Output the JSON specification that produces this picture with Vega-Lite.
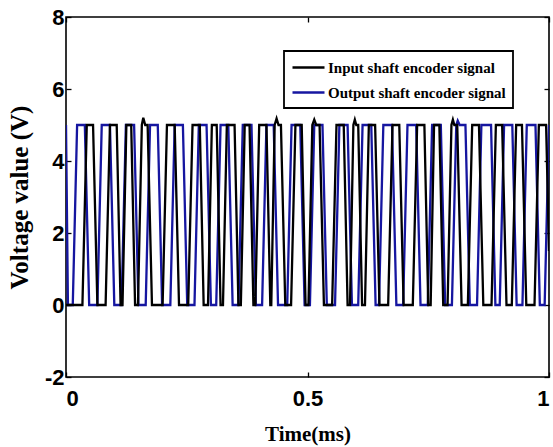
{
  "$schema": "https://vega.github.io/schema/vega-lite/v6.json",
  "autosize": {"type": "none"},
  "padding": {"left": 66, "top": 17, "right": 4, "bottom": 70},
  "width": 483,
  "height": 360,
  "background": "white",
  "config": {
    "view": {"stroke": "black", "strokeWidth": 1.6},
    "legend": {"strokeWidth": 1.8},
    "axis": {
      "grid": false,
      "domain": false,
      "tickColor": "black",
      "tickSize": -5,
      "tickWidth": 1.3,
      "labelColor": "black",
      "labelFont": "Liberation Sans",
      "labelFontWeight": "bold",
      "labelFontSize": 22,
      "titleColor": "black",
      "titleFont": "Liberation Serif",
      "titleFontWeight": "bold"
    }
  },
  "datasets": {
    "sig": [
      {"t": 0.0, "v": 5, "s": "Output shaft encoder signal"},
      {"t": 0.004, "v": 0, "s": "Output shaft encoder signal"},
      {"t": 0.014, "v": 0, "s": "Output shaft encoder signal"},
      {"t": 0.023, "v": 5, "s": "Output shaft encoder signal"},
      {"t": 0.039, "v": 5, "s": "Output shaft encoder signal"},
      {"t": 0.048, "v": 0, "s": "Output shaft encoder signal"},
      {"t": 0.065, "v": 0, "s": "Output shaft encoder signal"},
      {"t": 0.074, "v": 5, "s": "Output shaft encoder signal"},
      {"t": 0.091, "v": 5, "s": "Output shaft encoder signal"},
      {"t": 0.100, "v": 0, "s": "Output shaft encoder signal"},
      {"t": 0.115, "v": 0, "s": "Output shaft encoder signal"},
      {"t": 0.124, "v": 5, "s": "Output shaft encoder signal"},
      {"t": 0.141, "v": 5, "s": "Output shaft encoder signal"},
      {"t": 0.150, "v": 0, "s": "Output shaft encoder signal"},
      {"t": 0.165, "v": 0, "s": "Output shaft encoder signal"},
      {"t": 0.174, "v": 5, "s": "Output shaft encoder signal"},
      {"t": 0.190, "v": 5, "s": "Output shaft encoder signal"},
      {"t": 0.199, "v": 0, "s": "Output shaft encoder signal"},
      {"t": 0.216, "v": 0, "s": "Output shaft encoder signal"},
      {"t": 0.225, "v": 5, "s": "Output shaft encoder signal"},
      {"t": 0.242, "v": 5, "s": "Output shaft encoder signal"},
      {"t": 0.251, "v": 0, "s": "Output shaft encoder signal"},
      {"t": 0.266, "v": 0, "s": "Output shaft encoder signal"},
      {"t": 0.275, "v": 5, "s": "Output shaft encoder signal"},
      {"t": 0.291, "v": 5, "s": "Output shaft encoder signal"},
      {"t": 0.300, "v": 0, "s": "Output shaft encoder signal"},
      {"t": 0.311, "v": 0, "s": "Output shaft encoder signal"},
      {"t": 0.320, "v": 5, "s": "Output shaft encoder signal"},
      {"t": 0.336, "v": 5, "s": "Output shaft encoder signal"},
      {"t": 0.345, "v": 0, "s": "Output shaft encoder signal"},
      {"t": 0.357, "v": 0, "s": "Output shaft encoder signal"},
      {"t": 0.366, "v": 5, "s": "Output shaft encoder signal"},
      {"t": 0.384, "v": 5, "s": "Output shaft encoder signal"},
      {"t": 0.393, "v": 0, "s": "Output shaft encoder signal"},
      {"t": 0.406, "v": 0, "s": "Output shaft encoder signal"},
      {"t": 0.415, "v": 5, "s": "Output shaft encoder signal"},
      {"t": 0.430, "v": 5, "s": "Output shaft encoder signal"},
      {"t": 0.439, "v": 0, "s": "Output shaft encoder signal"},
      {"t": 0.458, "v": 0, "s": "Output shaft encoder signal"},
      {"t": 0.467, "v": 5, "s": "Output shaft encoder signal"},
      {"t": 0.485, "v": 5, "s": "Output shaft encoder signal"},
      {"t": 0.494, "v": 0, "s": "Output shaft encoder signal"},
      {"t": 0.505, "v": 0, "s": "Output shaft encoder signal"},
      {"t": 0.514, "v": 5, "s": "Output shaft encoder signal"},
      {"t": 0.531, "v": 5, "s": "Output shaft encoder signal"},
      {"t": 0.540, "v": 0, "s": "Output shaft encoder signal"},
      {"t": 0.557, "v": 0, "s": "Output shaft encoder signal"},
      {"t": 0.566, "v": 5, "s": "Output shaft encoder signal"},
      {"t": 0.583, "v": 5, "s": "Output shaft encoder signal"},
      {"t": 0.592, "v": 0, "s": "Output shaft encoder signal"},
      {"t": 0.605, "v": 0, "s": "Output shaft encoder signal"},
      {"t": 0.614, "v": 5, "s": "Output shaft encoder signal"},
      {"t": 0.632, "v": 5, "s": "Output shaft encoder signal"},
      {"t": 0.641, "v": 0, "s": "Output shaft encoder signal"},
      {"t": 0.648, "v": 0, "s": "Output shaft encoder signal"},
      {"t": 0.657, "v": 5, "s": "Output shaft encoder signal"},
      {"t": 0.675, "v": 5, "s": "Output shaft encoder signal"},
      {"t": 0.684, "v": 0, "s": "Output shaft encoder signal"},
      {"t": 0.698, "v": 0, "s": "Output shaft encoder signal"},
      {"t": 0.707, "v": 5, "s": "Output shaft encoder signal"},
      {"t": 0.725, "v": 5, "s": "Output shaft encoder signal"},
      {"t": 0.734, "v": 0, "s": "Output shaft encoder signal"},
      {"t": 0.749, "v": 0, "s": "Output shaft encoder signal"},
      {"t": 0.758, "v": 5, "s": "Output shaft encoder signal"},
      {"t": 0.776, "v": 5, "s": "Output shaft encoder signal"},
      {"t": 0.785, "v": 0, "s": "Output shaft encoder signal"},
      {"t": 0.799, "v": 0, "s": "Output shaft encoder signal"},
      {"t": 0.808, "v": 5, "s": "Output shaft encoder signal"},
      {"t": 0.811, "v": 5.12, "s": "Output shaft encoder signal"},
      {"t": 0.815, "v": 5, "s": "Output shaft encoder signal"},
      {"t": 0.827, "v": 5, "s": "Output shaft encoder signal"},
      {"t": 0.836, "v": 0, "s": "Output shaft encoder signal"},
      {"t": 0.851, "v": 0, "s": "Output shaft encoder signal"},
      {"t": 0.860, "v": 5, "s": "Output shaft encoder signal"},
      {"t": 0.880, "v": 5, "s": "Output shaft encoder signal"},
      {"t": 0.889, "v": 0, "s": "Output shaft encoder signal"},
      {"t": 0.898, "v": 0, "s": "Output shaft encoder signal"},
      {"t": 0.907, "v": 5, "s": "Output shaft encoder signal"},
      {"t": 0.924, "v": 5, "s": "Output shaft encoder signal"},
      {"t": 0.933, "v": 0, "s": "Output shaft encoder signal"},
      {"t": 0.945, "v": 0, "s": "Output shaft encoder signal"},
      {"t": 0.954, "v": 5, "s": "Output shaft encoder signal"},
      {"t": 0.972, "v": 5, "s": "Output shaft encoder signal"},
      {"t": 0.981, "v": 0, "s": "Output shaft encoder signal"},
      {"t": 0.991, "v": 0, "s": "Output shaft encoder signal"},
      {"t": 1.0, "v": 5, "s": "Output shaft encoder signal"},

      {"t": 0.0, "v": 0, "s": "Input shaft encoder signal"},
      {"t": 0.034, "v": 0, "s": "Input shaft encoder signal"},
      {"t": 0.043, "v": 5, "s": "Input shaft encoder signal"},
      {"t": 0.056, "v": 5, "s": "Input shaft encoder signal"},
      {"t": 0.065, "v": 0, "s": "Input shaft encoder signal"},
      {"t": 0.082, "v": 0, "s": "Input shaft encoder signal"},
      {"t": 0.091, "v": 5, "s": "Input shaft encoder signal"},
      {"t": 0.105, "v": 5, "s": "Input shaft encoder signal"},
      {"t": 0.113, "v": 0, "s": "Input shaft encoder signal"},
      {"t": 0.117, "v": 0, "s": "Input shaft encoder signal"},
      {"t": 0.125, "v": 5, "s": "Input shaft encoder signal"},
      {"t": 0.135, "v": 5, "s": "Input shaft encoder signal"},
      {"t": 0.143, "v": 0, "s": "Input shaft encoder signal"},
      {"t": 0.149, "v": 0, "s": "Input shaft encoder signal"},
      {"t": 0.157, "v": 5, "s": "Input shaft encoder signal"},
      {"t": 0.160, "v": 5.2, "s": "Input shaft encoder signal"},
      {"t": 0.164, "v": 5, "s": "Input shaft encoder signal"},
      {"t": 0.169, "v": 5, "s": "Input shaft encoder signal"},
      {"t": 0.178, "v": 0, "s": "Input shaft encoder signal"},
      {"t": 0.200, "v": 0, "s": "Input shaft encoder signal"},
      {"t": 0.209, "v": 5, "s": "Input shaft encoder signal"},
      {"t": 0.225, "v": 5, "s": "Input shaft encoder signal"},
      {"t": 0.234, "v": 0, "s": "Input shaft encoder signal"},
      {"t": 0.253, "v": 0, "s": "Input shaft encoder signal"},
      {"t": 0.262, "v": 5, "s": "Input shaft encoder signal"},
      {"t": 0.277, "v": 5, "s": "Input shaft encoder signal"},
      {"t": 0.285, "v": 0, "s": "Input shaft encoder signal"},
      {"t": 0.294, "v": 0, "s": "Input shaft encoder signal"},
      {"t": 0.302, "v": 5, "s": "Input shaft encoder signal"},
      {"t": 0.312, "v": 5, "s": "Input shaft encoder signal"},
      {"t": 0.320, "v": 0, "s": "Input shaft encoder signal"},
      {"t": 0.325, "v": 0, "s": "Input shaft encoder signal"},
      {"t": 0.333, "v": 5, "s": "Input shaft encoder signal"},
      {"t": 0.349, "v": 5, "s": "Input shaft encoder signal"},
      {"t": 0.357, "v": 0, "s": "Input shaft encoder signal"},
      {"t": 0.362, "v": 0, "s": "Input shaft encoder signal"},
      {"t": 0.370, "v": 5, "s": "Input shaft encoder signal"},
      {"t": 0.380, "v": 5, "s": "Input shaft encoder signal"},
      {"t": 0.388, "v": 0, "s": "Input shaft encoder signal"},
      {"t": 0.392, "v": 0, "s": "Input shaft encoder signal"},
      {"t": 0.400, "v": 5, "s": "Input shaft encoder signal"},
      {"t": 0.415, "v": 5, "s": "Input shaft encoder signal"},
      {"t": 0.423, "v": 0, "s": "Input shaft encoder signal"},
      {"t": 0.425, "v": 0, "s": "Input shaft encoder signal"},
      {"t": 0.432, "v": 5, "s": "Input shaft encoder signal"},
      {"t": 0.436, "v": 5.18, "s": "Input shaft encoder signal"},
      {"t": 0.440, "v": 5, "s": "Input shaft encoder signal"},
      {"t": 0.445, "v": 5, "s": "Input shaft encoder signal"},
      {"t": 0.454, "v": 0, "s": "Input shaft encoder signal"},
      {"t": 0.466, "v": 0, "s": "Input shaft encoder signal"},
      {"t": 0.475, "v": 5, "s": "Input shaft encoder signal"},
      {"t": 0.488, "v": 5, "s": "Input shaft encoder signal"},
      {"t": 0.496, "v": 0, "s": "Input shaft encoder signal"},
      {"t": 0.502, "v": 0, "s": "Input shaft encoder signal"},
      {"t": 0.510, "v": 5, "s": "Input shaft encoder signal"},
      {"t": 0.514, "v": 5.15, "s": "Input shaft encoder signal"},
      {"t": 0.518, "v": 5, "s": "Input shaft encoder signal"},
      {"t": 0.525, "v": 5, "s": "Input shaft encoder signal"},
      {"t": 0.534, "v": 0, "s": "Input shaft encoder signal"},
      {"t": 0.551, "v": 0, "s": "Input shaft encoder signal"},
      {"t": 0.560, "v": 5, "s": "Input shaft encoder signal"},
      {"t": 0.575, "v": 5, "s": "Input shaft encoder signal"},
      {"t": 0.583, "v": 0, "s": "Input shaft encoder signal"},
      {"t": 0.588, "v": 0, "s": "Input shaft encoder signal"},
      {"t": 0.595, "v": 5, "s": "Input shaft encoder signal"},
      {"t": 0.598, "v": 5.15, "s": "Input shaft encoder signal"},
      {"t": 0.601, "v": 5, "s": "Input shaft encoder signal"},
      {"t": 0.605, "v": 5, "s": "Input shaft encoder signal"},
      {"t": 0.613, "v": 0, "s": "Input shaft encoder signal"},
      {"t": 0.619, "v": 0, "s": "Input shaft encoder signal"},
      {"t": 0.627, "v": 5, "s": "Input shaft encoder signal"},
      {"t": 0.640, "v": 5, "s": "Input shaft encoder signal"},
      {"t": 0.649, "v": 0, "s": "Input shaft encoder signal"},
      {"t": 0.667, "v": 0, "s": "Input shaft encoder signal"},
      {"t": 0.676, "v": 5, "s": "Input shaft encoder signal"},
      {"t": 0.690, "v": 5, "s": "Input shaft encoder signal"},
      {"t": 0.699, "v": 0, "s": "Input shaft encoder signal"},
      {"t": 0.718, "v": 0, "s": "Input shaft encoder signal"},
      {"t": 0.727, "v": 5, "s": "Input shaft encoder signal"},
      {"t": 0.742, "v": 5, "s": "Input shaft encoder signal"},
      {"t": 0.750, "v": 0, "s": "Input shaft encoder signal"},
      {"t": 0.755, "v": 0, "s": "Input shaft encoder signal"},
      {"t": 0.762, "v": 5, "s": "Input shaft encoder signal"},
      {"t": 0.773, "v": 5, "s": "Input shaft encoder signal"},
      {"t": 0.781, "v": 0, "s": "Input shaft encoder signal"},
      {"t": 0.790, "v": 0, "s": "Input shaft encoder signal"},
      {"t": 0.798, "v": 5, "s": "Input shaft encoder signal"},
      {"t": 0.801, "v": 5.15, "s": "Input shaft encoder signal"},
      {"t": 0.804, "v": 5, "s": "Input shaft encoder signal"},
      {"t": 0.810, "v": 5, "s": "Input shaft encoder signal"},
      {"t": 0.819, "v": 0, "s": "Input shaft encoder signal"},
      {"t": 0.832, "v": 0, "s": "Input shaft encoder signal"},
      {"t": 0.841, "v": 5, "s": "Input shaft encoder signal"},
      {"t": 0.855, "v": 5, "s": "Input shaft encoder signal"},
      {"t": 0.864, "v": 0, "s": "Input shaft encoder signal"},
      {"t": 0.881, "v": 0, "s": "Input shaft encoder signal"},
      {"t": 0.890, "v": 5, "s": "Input shaft encoder signal"},
      {"t": 0.903, "v": 5, "s": "Input shaft encoder signal"},
      {"t": 0.912, "v": 0, "s": "Input shaft encoder signal"},
      {"t": 0.923, "v": 0, "s": "Input shaft encoder signal"},
      {"t": 0.932, "v": 5, "s": "Input shaft encoder signal"},
      {"t": 0.944, "v": 5, "s": "Input shaft encoder signal"},
      {"t": 0.953, "v": 0, "s": "Input shaft encoder signal"},
      {"t": 0.970, "v": 0, "s": "Input shaft encoder signal"},
      {"t": 0.979, "v": 5, "s": "Input shaft encoder signal"},
      {"t": 0.994, "v": 5, "s": "Input shaft encoder signal"},
      {"t": 1.0, "v": 1.5, "s": "Input shaft encoder signal"}
    ]
  },
  "data": {"name": "sig"},
  "layer": [
    {
      "mark": {"type": "line", "strokeWidth": 2.3, "clip": true},
      "encoding": {
        "x": {
          "field": "t", "type": "quantitative",
          "scale": {"domain": [0, 1], "nice": false},
          "axis": {"values": [0, 0.5, 1], "labelExpr": "'' + datum.value", "title": "Time(ms)", "titleFontSize": 21, "labelPadding": 16, "titlePadding": 14}
        },
        "y": {
          "field": "v", "type": "quantitative",
          "scale": {"domain": [-2, 8], "nice": false},
          "axis": {"values": [-2, 0, 2, 4, 6, 8], "labelExpr": "'' + datum.value", "title": "Voltage value (V)", "titleFontSize": 25, "labelPadding": 7, "titlePadding": 12}
        },
        "color": {
          "field": "s", "type": "nominal",
          "scale": {"domain": ["Input shaft encoder signal", "Output shaft encoder signal"], "range": ["#000000", "#1616a0"]},
          "legend": {
            "orient": "none", "legendX": 218, "legendY": 34,
            "title": null,
            "symbolType": "M-2,0H2", "symbolSize": 256, "symbolStrokeWidth": 2.5, "symbolOffset": 8,
            "labelFont": "Liberation Serif", "labelFontWeight": "bold", "labelFontSize": 15, "labelColor": "black",
            "labelLimit": 400, "labelOffset": 10,
            "strokeColor": "black", "fillColor": "white", "padding": 7, "rowPadding": 7
          }
        }
      }
    },
    {
      "mark": {"type": "line", "strokeOpacity": 0},
      "encoding": {
        "x": {"field": "t", "type": "quantitative", "axis": {"orient": "top", "values": [0, 0.5, 1], "labels": false, "title": null}},
        "y": {"field": "v", "type": "quantitative", "axis": {"orient": "right", "values": [-2, 0, 2, 4, 6, 8], "labels": false, "title": null}},
        "detail": {"field": "s"}
      }
    }
  ],
  "resolve": {"axis": {"x": "independent", "y": "independent"}}
}
